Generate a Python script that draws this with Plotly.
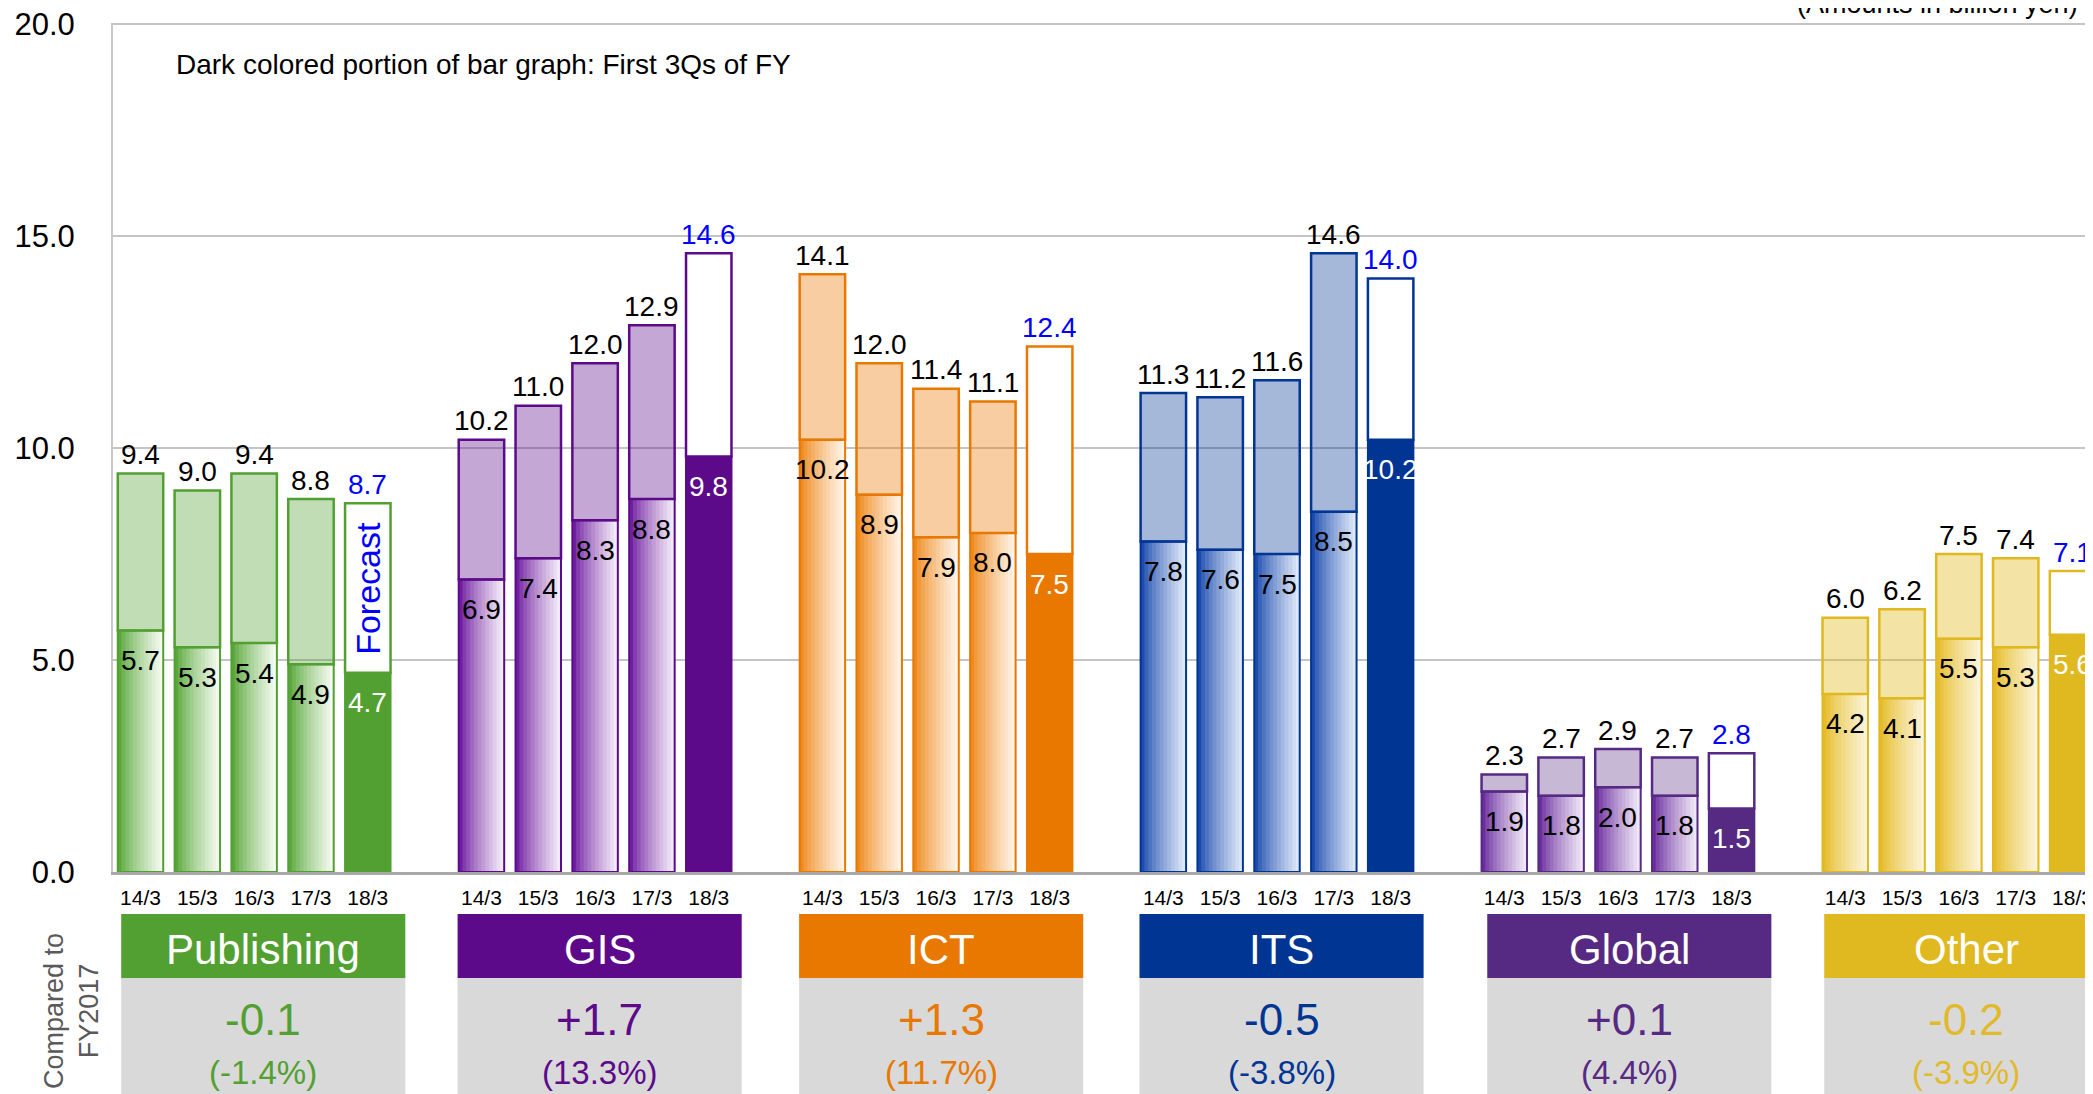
import plotly.graph_objects as go

# ---------------- data ----------------
segments = ["Publishing", "GIS", "ICT", "ITS", "Global", "Other"]
years = ["14/3", "15/3", "16/3", "17/3", "18/3"]

publishing_total = [9.4, 9.0, 9.4, 8.8, 8.7]
publishing_q3 = [5.7, 5.3, 5.4, 4.9, 4.7]
gis_total = [10.2, 11.0, 12.0, 12.9, 14.6]
gis_q3 = [6.9, 7.4, 8.3, 8.8, 9.8]
ict_total = [14.1, 12.0, 11.4, 11.1, 12.4]
ict_q3 = [10.2, 8.9, 7.9, 8.0, 7.5]
its_total = [11.3, 11.2, 11.6, 14.6, 14.0]
its_q3 = [7.8, 7.6, 7.5, 8.5, 10.2]
global_total = [2.3, 2.7, 2.9, 2.7, 2.8]
global_q3 = [1.9, 1.8, 2.0, 1.8, 1.5]
other_total = [6.0, 6.2, 7.5, 7.4, 7.1]
other_q3 = [4.2, 4.1, 5.5, 5.3, 5.6]

change_values = ["-0.1", "+1.7", "+1.3", "-0.5", "+0.1", "-0.2"]
change_pcts = ["(-1.4%)", "(13.3%)", "(11.7%)", "(-3.8%)", "(4.4%)", "(-3.9%)"]

totals = [publishing_total, gis_total, ict_total, its_total, global_total, other_total]
q3s = [publishing_q3, gis_q3, ict_q3, its_q3, global_q3, other_q3]

# ---------------- styles ----------------
FONT = "Liberation Sans, Arial, sans-serif"
dark = ["#52A032", "#5C0A8A", "#E87800", "#003594", "#562A83", "#E0B820"]
grad_left = ["#5AA83C", "#701FA0", "#EE8A1E", "#1C4CAE", "#6A2E9E", "#E6BC2A"]
grad_right = ["#F4FAF0", "#F4EBF8", "#FFF4E8", "#DDE7F7", "#F0E7F6", "#FBF4D8"]
top_rgba = ["rgba(82,160,50,0.36)", "rgba(92,10,138,0.36)", "rgba(232,120,0,0.37)",
            "rgba(0,53,148,0.35)", "rgba(86,42,131,0.33)", "rgba(224,184,30,0.40)"]
text_col = ["#52A032", "#5C0A8A", "#E87800", "#003594", "#562A83", "#E2B92A"]
header_shift = [0.06, -0.02, -0.01, -0.02, 0.1, 0.03]
BLUE = "#0000FF"
SLOTS = 6
BW = 0.8
NSTEPS = 12
YMAX = 20.03


def hex2rgb(h):
    h = h.lstrip("#")
    return tuple(int(h[i:i + 2], 16) for i in (0, 2, 4))


def mix(c1, c2, f):
    a, b = hex2rgb(c1), hex2rgb(c2)
    return "rgb(%d,%d,%d)" % tuple(round(a[i] + (b[i] - a[i]) * f) for i in range(3))


fig = go.Figure()

# build per-bar arrays
px_x, px_q3, px_top, px_dark, px_toprgba, px_g = [], [], [], [], [], []
fx_x, fx_q3, fx_top, fx_dark = [], [], [], []
tickvals, ticktext = [], []
for g in range(len(segments)):
    for j in range(len(years)):
        x = g * SLOTS + j
        tickvals.append(x)
        ticktext.append(years[j])
        t, q = totals[g][j], q3s[g][j]
        if j < len(years) - 1:
            px_x.append(x); px_q3.append(q); px_top.append(round(t - q, 2))
            px_dark.append(dark[g]); px_toprgba.append(top_rgba[g]); px_g.append(g)
        else:
            fx_x.append(x); fx_q3.append(q); fx_top.append(round(t - q, 2)); fx_dark.append(dark[g])

# past years, first 3Qs: shaded left-to-right (stepped gradient)
for k in range(NSTEPS):
    f = k / (NSTEPS - 1)
    cols = [mix(grad_left[g], grad_right[g], f ** 0.8) for g in px_g]
    fig.add_trace(go.Bar(x=px_x, y=px_q3, base=0, width=BW * (1 - k / NSTEPS),
                         offset=-BW / 2 + BW * k / NSTEPS,
                         marker=dict(color=cols, line=dict(width=0)), hoverinfo="skip"))
# outline of first-3Q part
fig.add_trace(go.Bar(x=px_x, y=px_q3, base=0, width=BW,
                     marker=dict(color="rgba(0,0,0,0)", line=dict(color=px_dark, width=2)),
                     hoverinfo="skip"))
# past years, 4Q (top part)
fig.add_trace(go.Bar(x=px_x, y=px_top, base=px_q3, width=BW,
                     marker=dict(color=px_toprgba, line=dict(color=px_dark, width=2.5)),
                     hoverinfo="skip"))
# forecast year
fig.add_trace(go.Bar(x=fx_x, y=fx_q3, base=0, width=BW,
                     marker=dict(color=fx_dark, line=dict(color=fx_dark, width=2)),
                     hoverinfo="skip"))
fig.add_trace(go.Bar(x=fx_x, y=fx_top, base=fx_q3, width=BW,
                     marker=dict(color="white", line=dict(color=fx_dark, width=2.5)),
                     hoverinfo="skip"))

ann = []
for g in range(len(segments)):
    for j in range(len(years)):
        x = g * SLOTS + j
        t, q = totals[g][j], q3s[g][j]
        forecast = j == len(years) - 1
        ann.append(dict(x=x, y=t, xref="x", yref="y", text=f"{t:.1f}", showarrow=False,
                        xanchor="center", yanchor="middle", yshift=19,
                        font=dict(family=FONT, size=28, color=BLUE if forecast else "black")))
        ann.append(dict(x=x, y=q, xref="x", yref="y", text=f"{q:.1f}", showarrow=False,
                        xanchor="center", yanchor="middle", yshift=-30,
                        font=dict(family=FONT, size=28, color="white" if forecast else "black")))

# "Forecast" vertical label
ann.append(dict(x=len(years) - 1, y=(publishing_total[-1] + publishing_q3[-1]) / 2,
                xref="x", yref="y", text="Forecast", textangle=-90, showarrow=False,
                xanchor="center", yanchor="middle",
                font=dict(family=FONT, size=34, color=BLUE)))

# screen-pixel helpers (plot area spans 113..2093 x 23..872 on screen)
H = 849.0
def py(pix):
    return (872 - pix) / H

def pxp(pix):
    return (pix - 113) / 1980.0

shapes = []
for g, name in enumerate(segments):
    x0 = g * SLOTS - 0.4 + header_shift[g]
    x1 = x0 + 5
    shapes.append(dict(type="rect", xref="x", yref="paper", x0=x0, x1=x1,
                       y0=py(978), y1=py(914), fillcolor=dark[g], line=dict(width=0)))
    shapes.append(dict(type="rect", xref="x", yref="paper", x0=x0, x1=x1,
                       y0=py(1110), y1=py(978), fillcolor="#D9D9D9", line=dict(width=0)))
    xc = (x0 + x1) / 2
    ann.append(dict(x=xc, y=py(949), xref="x", yref="paper", text=name, showarrow=False,
                    xanchor="center", yanchor="middle",
                    font=dict(family=FONT, size=42, color="white")))
    ann.append(dict(x=xc, y=py(1020), xref="x", yref="paper", text=change_values[g], showarrow=False,
                    xanchor="center", yanchor="middle",
                    font=dict(family=FONT, size=44, color=text_col[g])))
    ann.append(dict(x=xc, y=py(1072), xref="x", yref="paper", text=change_pcts[g], showarrow=False,
                    xanchor="center", yanchor="middle",
                    font=dict(family=FONT, size=33, color=text_col[g])))

ann.append(dict(x=pxp(71), y=py(1011), xref="paper", yref="paper",
                text="Compared to<br>FY2017", textangle=-90, showarrow=False,
                xanchor="center", yanchor="middle",
                font=dict(family=FONT, size=27, color="#595959")))
ann.append(dict(x=pxp(174), y=py(64), xref="paper", yref="paper", xanchor="left",
                yanchor="middle",
                text="Dark colored portion of bar graph: First 3Qs of FY", showarrow=False,
                font=dict(family=FONT, size=28, color="black")))
ann.append(dict(x=pxp(2080), y=py(4), xref="paper", yref="paper", xanchor="right",
                yanchor="middle",
                text="(Amounts in billion yen)", showarrow=False,
                font=dict(family=FONT, size=27, color="black")))

# page body has an 8px margin, so figure coords = screen coords - 8
fig.update_layout(
    width=2093, height=1094,
    margin=dict(l=105, r=8, t=15, b=230, pad=0, autoexpand=False),
    paper_bgcolor="white", plot_bgcolor="white",
    barmode="overlay", showlegend=False,
    annotations=ann, shapes=shapes,
    xaxis=dict(range=[-0.484, 34.36], tickvals=tickvals, ticktext=ticktext,
               tickfont=dict(family=FONT, size=21, color="black"),
               showgrid=False, zeroline=False, showline=True, linecolor="#A8A8A8",
               linewidth=3, ticks="", ticklabelstandoff=5, automargin=False,
               ticklabeloverflow="allow"),
    yaxis=dict(range=[0, YMAX], tickvals=[0, 5, 10, 15, 20], tickformat=".1f",
               tickfont=dict(family=FONT, size=31, color="black"),
               showgrid=True, gridcolor="#C4C4C4", gridwidth=2, zeroline=False,
               showline=True, linecolor="#C8C8C8", linewidth=2, ticks="",
               ticklabelstandoff=30, automargin=False, ticklabeloverflow="allow"),
)

fig.write_html("out.html")
